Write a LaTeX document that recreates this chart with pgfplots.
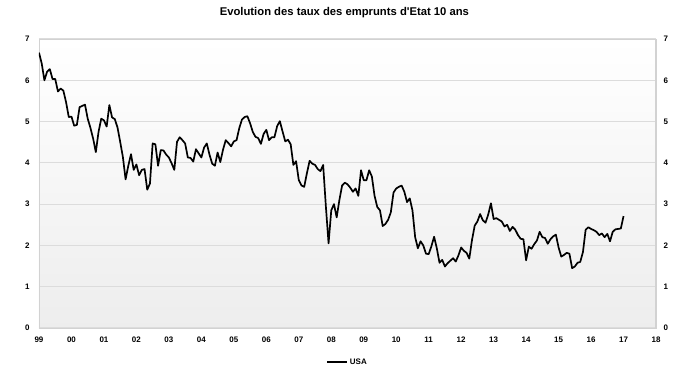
\documentclass[border=0pt]{standalone}
\usepackage{fontspec}
\setmainfont{Liberation Sans}
\usepackage{pgfplots}
\pgfplotsset{compat=1.18}
\usepackage{pgfplotstable}
\definecolor{gridc}{HTML}{DCDCDC}
\definecolor{bordc}{HTML}{D2D2D2}
\pgfplotstableread{
m v
0 6.67
1 6.41
2 6.00
3 6.21
4 6.27
5 6.03
6 6.03
7 5.73
8 5.80
9 5.75
10 5.47
11 5.11
12 5.12
13 4.90
14 4.92
15 5.35
16 5.38
17 5.41
18 5.07
19 4.85
20 4.59
21 4.26
22 4.75
23 5.07
24 5.03
25 4.88
26 5.40
27 5.10
28 5.06
29 4.86
30 4.51
31 4.14
32 3.60
33 3.93
34 4.21
35 3.83
36 3.96
37 3.70
38 3.83
39 3.85
40 3.35
41 3.50
42 4.47
43 4.45
44 3.93
45 4.31
46 4.30
47 4.20
48 4.13
49 3.99
50 3.83
51 4.51
52 4.62
53 4.55
54 4.47
55 4.13
56 4.12
57 4.03
58 4.33
59 4.23
60 4.13
61 4.37
62 4.47
63 4.20
64 3.98
65 3.93
66 4.25
67 4.02
68 4.32
69 4.55
70 4.48
71 4.40
72 4.52
73 4.55
74 4.84
75 5.05
76 5.11
77 5.13
78 4.96
79 4.75
80 4.63
81 4.60
82 4.46
83 4.70
84 4.80
85 4.55
86 4.62
87 4.62
88 4.89
89 5.01
90 4.76
91 4.52
92 4.56
93 4.45
94 3.95
95 4.04
96 3.58
97 3.45
98 3.42
99 3.75
100 4.05
101 3.98
102 3.95
103 3.85
104 3.80
105 3.95
106 2.95
107 2.05
108 2.85
109 3.00
110 2.68
111 3.10
112 3.45
113 3.52
114 3.48
115 3.40
116 3.30
117 3.38
118 3.20
119 3.82
120 3.58
121 3.58
122 3.82
123 3.67
124 3.20
125 2.93
126 2.85
127 2.47
128 2.52
129 2.62
130 2.80
131 3.28
132 3.38
133 3.42
134 3.45
135 3.30
136 3.05
137 3.14
138 2.85
139 2.20
140 1.93
141 2.10
142 2.00
143 1.80
144 1.79
145 1.98
146 2.21
147 1.93
148 1.58
149 1.65
150 1.49
151 1.57
152 1.63
153 1.69
154 1.61
155 1.76
156 1.95
157 1.87
158 1.82
159 1.68
160 2.13
161 2.48
162 2.58
163 2.76
164 2.61
165 2.55
166 2.75
167 3.02
168 2.64
169 2.66
170 2.62
171 2.58
172 2.46
173 2.50
174 2.35
175 2.45
176 2.38
177 2.25
178 2.16
179 2.15
180 1.64
181 1.97
182 1.92
183 2.03
184 2.12
185 2.33
186 2.20
187 2.18
188 2.04
189 2.15
190 2.22
191 2.26
192 1.95
193 1.73
194 1.77
195 1.82
196 1.80
197 1.45
198 1.49
199 1.58
200 1.60
201 1.84
202 2.38
203 2.44
204 2.40
205 2.37
206 2.33
207 2.25
208 2.29
209 2.20
210 2.28
211 2.10
212 2.33
213 2.39
214 2.40
215 2.41
216 2.71
}\usa
\begin{document}
\begin{tikzpicture}[x=1bp,y=1bp]
\path[use as bounding box] (-39,-46) rectangle (645,328);
\begin{axis}[
  at={(0,0)}, anchor=south west,
  width=617bp, height=289bp, scale only axis,
  xmin=0, xmax=228, ymin=0, ymax=7,
  xtick={0,12,...,228},
  xticklabels={99,00,01,02,03,04,05,06,07,08,09,10,11,12,13,14,15,16,17,18},
  ytick={0,1,...,7},
  ymajorgrids,
  major grid style={gridc, line width=1.2pt},
  axis line style={bordc, line width=1pt},
  major tick length=0pt,
  /pgf/number format/assume math mode=true,
  tick label style={font=\bfseries\fontsize{8}{9}\selectfont},
  yticklabel style={xshift=-6bp},
  xticklabel style={yshift=-5bp},
  axis background/.style={shade, top color=white, bottom color=black!7},
  title={Evolution des taux des emprunts d\textquotesingle Etat 10 ans},
  title style={font=\bfseries\fontsize{11.3}{13}\selectfont, at={(0.495,1)}, anchor=base, yshift=18bp},
  legend style={at={(0.5,-0.118)}, anchor=center, draw=none, fill=none,
    font=\bfseries\fontsize{8}{9}\selectfont},
  legend image code/.code={\draw[#1, line width=1.7pt] (0bp,0bp) -- (20bp,0bp);},
]
\addplot[black, line width=1.7pt, line join=round] table[x=m, y=v] {\usa};
\addlegendentry{USA}
\end{axis}
\begin{axis}[
  at={(0,0)}, anchor=south west,
  width=617bp, height=289bp, scale only axis,
  xmin=0, xmax=228, ymin=0, ymax=7,
  axis x line=none, axis y line*=right,
  ytick={0,1,...,7},
  major tick length=0pt,
  axis line style={bordc, line width=1.5pt},
  /pgf/number format/assume math mode=true,
  tick label style={font=\bfseries\fontsize{8}{9}\selectfont},
  yticklabel style={xshift=4bp},
]
\end{axis}
\end{tikzpicture}
\end{document}
